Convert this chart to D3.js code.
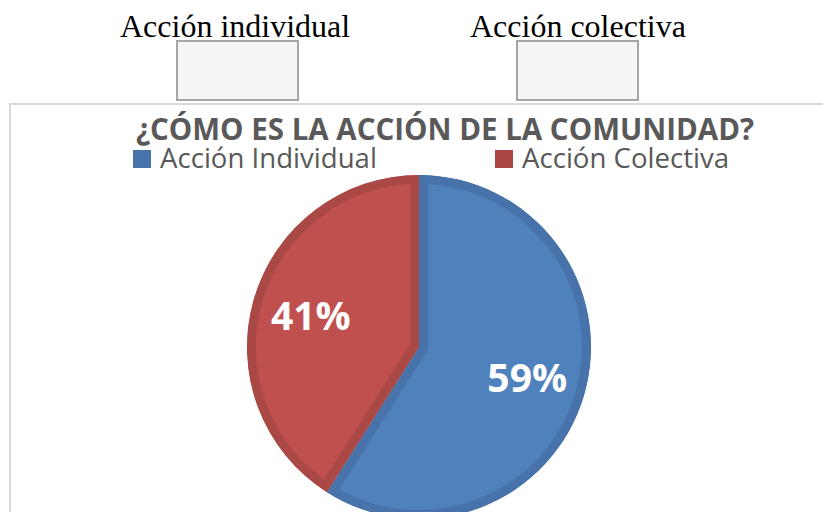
<!doctype html>
<html lang="es">
  <head>
    <meta charset="utf-8">
    <script src="https://cdnjs.cloudflare.com/ajax/libs/d3/7.8.5/d3.min.js"></script>
    <style>
    body { margin: 0; background: #fff; }
    svg { display: block; }
    </style>
    <title>Acción de la comunidad</title>
  </head>
  <body>
    <div id="my_dataviz"></div>

    <script>
    var categories = ["Acción Individual", "Acción Colectiva"];
    var values = [59, 41];
    var pctLabels = ["59%", "41%"];
    var topLabels = ["Acción individual", "Acción colectiva"];
    var chartTitle = "¿CÓMO ES LA ACCIÓN DE LA COMUNIDAD?";

    var width = 823;
    var height = 512;

    var fills = ["#4f81bd", "#c0504d"];
    var edges = ["#4773aa", "#aa4845"];

    var svg = d3.select("#my_dataviz")
        .append("svg")
            .attr("width", width)
            .attr("height", height);

    // header above the chart: two labels with empty boxes
    var topX = [120, 470];
    var boxX = [177, 517];
    topLabels.forEach(function(t, i) {
        svg.append("text")
            .attr("x", topX[i])
            .attr("y", 37)
            .style("font-family", "'Liberation Serif', 'Times New Roman', serif")
            .style("font-size", "32px")
            .style("fill", "#000")
            .text(t);
        svg.append("rect")
            .attr("x", boxX[i])
            .attr("y", 41)
            .attr("width", 121)
            .attr("height", 59)
            .style("fill", "#f5f5f5")
            .style("stroke", "#a6a6a6")
            .style("stroke-width", 2);
    });

    // chart area frame
    svg.append("rect")
        .attr("x", 10)
        .attr("y", 104)
        .attr("width", 830)
        .attr("height", 430)
        .style("fill", "#fff")
        .style("stroke", "#d9d9d9")
        .style("stroke-width", 2);

    svg.append("text")
        .attr("x", 445)
        .attr("y", 140)
        .attr("text-anchor", "middle")
        .style("font-family", "'Open Sans', sans-serif")
        .style("font-weight", "bold")
        .style("font-size", "29.5px")
        .style("fill", "#595959")
        .text(chartTitle);

    // legend
    var legendX = [133, 495];
    var legend = svg.selectAll("g.legend")
        .data(categories)
        .enter()
        .append("g")
            .attr("class", "legend")
            .attr("transform", function(d, i) { return "translate(" + legendX[i] + ",150)"; });
    legend.append("rect")
        .attr("width", 18)
        .attr("height", 18)
        .style("fill", function(d, i) { return edges[i]; });
    legend.append("text")
        .attr("x", 27)
        .attr("y", 18)
        .style("font-family", "'Open Sans', sans-serif")
        .style("font-size", "27.6px")
        .style("fill", "#595959")
        .text(function(d) { return d; });

    // pie
    var cx = 419, cy = 347, r = 172;
    var pie = d3.pie().sort(null).value(function(d) { return d; });
    var arc = d3.arc().innerRadius(0).outerRadius(r);
    var labelArc = d3.arc().innerRadius(r * 0.655).outerRadius(r * 0.655);
    var slices = pie(values);

    var g = svg.append("g")
        .attr("transform", "translate(" + cx + "," + cy + ")");

    var defs = svg.append("defs");
    slices.forEach(function(s, i) {
        defs.append("clipPath")
            .attr("id", "clip" + i)
            .append("path")
                .attr("d", arc(s));
    });

    // stroke is doubled and clipped, so the border sits inside each slice
    g.selectAll("path.slice")
        .data(slices)
        .enter()
        .append("path")
            .attr("class", "slice")
            .attr("d", arc)
            .attr("clip-path", function(d, i) { return "url(#clip" + i + ")"; })
            .style("fill", function(d, i) { return fills[i]; })
            .style("stroke", function(d, i) { return edges[i]; })
            .style("stroke-width", 18)
            .style("stroke-linejoin", "miter");

    g.selectAll("text.pct")
        .data(slices)
        .enter()
        .append("text")
            .attr("class", "pct")
            .attr("transform", function(d) { return "translate(" + labelArc.centroid(d) + ")"; })
            .attr("text-anchor", "middle")
            .attr("dy", "0.36em")
            .style("font-family", "'Open Sans', sans-serif")
            .style("font-weight", "bold")
            .style("font-size", "39px")
            .style("fill", "#fff")
            .text(function(d, i) { return pctLabels[i]; });
    </script>
  </body>
</html>
